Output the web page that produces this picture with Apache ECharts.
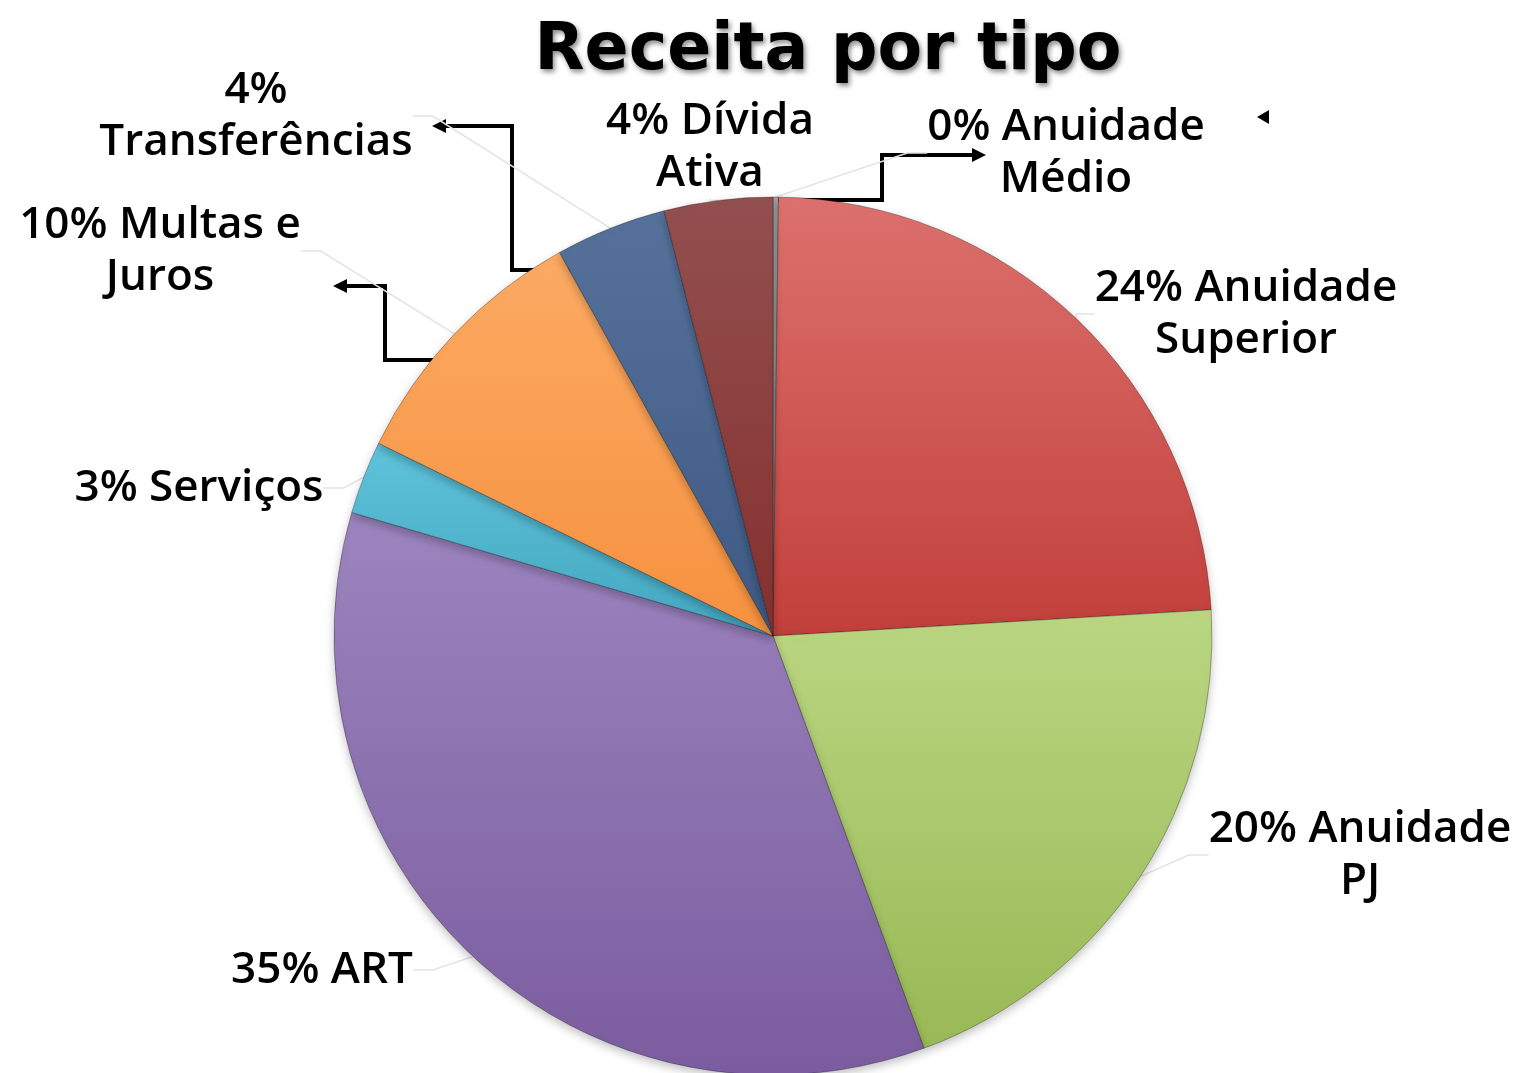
<!DOCTYPE html>
<html>
<head>
<meta charset="utf-8">
<script src="https://cdn.jsdelivr.net/npm/echarts@6/dist/echarts.min.js"></script>
<style>html,body{margin:0;padding:0;background:#fff;}#c{width:1525px;height:1073px;}</style>
</head>
<body>
<div id="c"></div>
<script>
// ---- data ----
var categories = ['Anuidade Médio', 'Anuidade Superior', 'Anuidade PJ', 'ART', 'Serviços', 'Multas e Juros', 'Transferências', 'Dívida Ativa'];
var values = [0.2, 23.9, 20.4, 35.2, 2.7, 9.7, 4.1, 4.0];
var title = 'Receita por tipo';

// ---- layout / style (not data) ----
var wordsOnFirstLine = [2, 2, 2, 9, 9, 3, 1, 2]; // words (incl. percent) on first label line
var labelPos = [[1066, 153], [1246, 314], [1360, 855], [322, 970], [199, 488], [160, 251], [256, 116], [710, 147]];
var colorsTop = ['#a6a6a6', '#dc716d', '#bbd682', '#9c85bf', '#5ec3db', '#fcaa63', '#56729b', '#935050'];
var colorsBot = ['#8c8c8c', '#c23f3b', '#98b955', '#7b5c9f', '#44a6c0', '#f6913f', '#3e5a84', '#85302e'];

var total = values.reduce(function (a, b) { return a + b; }, 0);

var chart = echarts.init(document.getElementById('c'));
var data = categories.map(function (n, i) {
  return {
    name: n, value: values[i],
    itemStyle: {
      color: new echarts.graphic.LinearGradient(0, 0, 0, 1, [
        { offset: 0, color: colorsTop[i] }, { offset: 1, color: colorsBot[i] }
      ])
    }
  };
});

function arrow(points, w) {
  return {
    type: 'polyline', silent: true,
    shape: { points: points },
    style: { stroke: '#000', lineWidth: w || 4, fill: null, lineJoin: 'miter' }
  };
}
function head(x, y, dir) {
  var s = dir === 'right' ? 1 : -1;
  return {
    type: 'polygon', silent: true,
    shape: { points: [[x, y - 7], [x, y + 7], [x + s * 14, y]] },
    style: { fill: '#000' }
  };
}

chart.setOption({
  animation: false,
  title: {
    text: title, left: 823, top: 15, textAlign: 'center',
    textStyle: {
      fontFamily: 'DejaVu Sans', fontWeight: 'bold', fontSize: 65, color: '#000',
      textShadowColor: 'rgba(0,0,0,0.45)', textShadowBlur: 5, textShadowOffsetX: 2, textShadowOffsetY: 3
    }
  },
  series: [{
    type: 'pie',
    center: [773, 636],
    radius: [0, 439],
    startAngle: 90,
    clockwise: true,
    data: data,
    itemStyle: {
      borderColor: 'rgba(0,0,0,0.28)', borderWidth: 1,
      shadowColor: 'rgba(0,0,0,0.25)', shadowBlur: 10, shadowOffsetY: 4
    },
    label: {
      show: true,
      fontFamily: 'Open Sans', fontWeight: 600, fontSize: 44, color: '#000',
      lineHeight: 52, align: 'center',
      formatter: function (p) {
        var words = (Math.round(p.value / total * 100) + '%').split(' ').concat(p.name.split(' '));
        var k = wordsOnFirstLine[p.dataIndex];
        var a = words.slice(0, k).join(' '), b = words.slice(k).join(' ');
        return b ? a + '\n' + b : a;
      }
    },
    labelLine: { show: true, lineStyle: { color: '#e3e3e3', width: 1.5 }, length: 20, length2: 20 },
    labelLayout: function (p) {
      var q = labelPos[p.dataIndex];
      return { x: q[0], y: q[1], align: 'center', verticalAlign: 'middle', hideOverlap: false, moveOverlap: null };
    },
    emphasis: { disabled: true }
  }],
  graphic: [
    arrow([[775, 200], [882, 200], [882, 155], [972, 155]]), head(972, 155, 'right'),
    arrow([[597, 270], [512, 270], [512, 126], [446, 126]]), head(446, 126, 'left'),
    arrow([[440, 360], [385, 360], [385, 286], [347, 286]]), head(347, 286, 'left'),
    { type: 'polygon', silent: true, shape: { points: [[1257, 117], [1269, 110], [1269, 124]] }, style: { fill: '#000' } }
  ]
});
</script>
</body>
</html>
